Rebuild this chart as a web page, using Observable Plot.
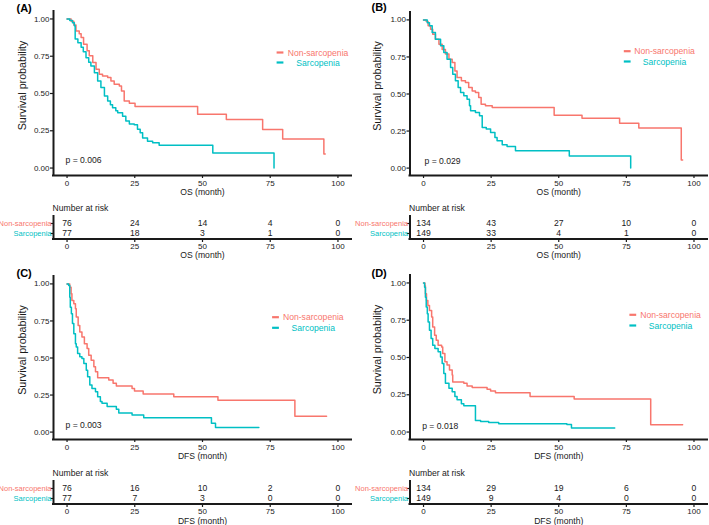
<!DOCTYPE html>
<html>
<head>
<meta charset="utf-8">
<script src="https://cdn.jsdelivr.net/npm/d3@7"></script>
<script src="https://cdn.jsdelivr.net/npm/@observablehq/plot@0.6"></script>
<style>
  html, body { margin: 0; padding: 0; background: #ffffff; }
  #root { position: relative; width: 709px; height: 525px; overflow: hidden; background: #ffffff; }
  #root svg { position: absolute; overflow: visible; }
</style>
</head>
<body>
<div id="root"></div>
<script>
// ---------- labels ----------
const groups = ["Non-sarcopenia", "Sarcopenia"];
const groupColors = ["#F8766D", "#00BFC4"];
const xTicks = [0, 25, 50, 75, 100];
const yTicks = [0, 0.25, 0.5, 0.75, 1];
const riskTimes = [0, 25, 50, 75, 100];
const panelTags = ["(A)", "(B)", "(C)", "(D)"];
const xLabels = ["OS (month)", "OS (month)", "DFS (month)", "DFS (month)"];
const yLabel = "Survival probability";
const riskTitle = "Number at risk";
const pValues = ["p = 0.006", "p = 0.029", "p = 0.003", "p = 0.018"];

// ---------- Panel A (OS) ----------
const aNonT = [0,1.5,2.5,3.3,4.5,5.2,6.1,7.4,8.2,9.5,10.7,11.9,13.1,15,16.2,17.4,19.3,20.1,21.1,23,25.1,48.2,58.8,72.2,79.6,94.8,95.3];
const aNonS = [1,0.985,0.96,0.92,0.90,0.876,0.83,0.787,0.753,0.708,0.663,0.629,0.618,0.607,0.584,0.562,0.55,0.517,0.45,0.434,0.413,0.36,0.326,0.258,0.195,0.094,0.094];
const aSarT = [0,1,2,2.7,3,4,5.2,6,7,8,8.8,10.1,11.3,12.5,13.8,15,16,16.8,18,18.7,20.5,21.7,23,24.8,26,27,27.9,29.7,31.6,34,53.8,76.4];
const aSarS = [1,0.99,0.975,0.955,0.865,0.84,0.81,0.78,0.74,0.71,0.685,0.64,0.584,0.54,0.483,0.45,0.425,0.404,0.385,0.371,0.348,0.315,0.295,0.29,0.26,0.236,0.202,0.18,0.169,0.153,0.101,0];

// ---------- Panel B (OS) ----------
const bNonT = [0,1,1.7,2.6,3.4,4.4,5.7,6.9,8.1,9.4,10.6,11.6,12.4,14,15.5,16.7,18,19.2,20.4,21.3,22.9,25.4,48.3,58.6,72.5,79.6,95.3,95.8];
const bNonS = [1,0.99,0.96,0.937,0.903,0.87,0.836,0.80,0.77,0.735,0.712,0.656,0.611,0.589,0.578,0.544,0.52,0.51,0.476,0.431,0.42,0.409,0.357,0.337,0.303,0.27,0.054,0.054];
const bSarT = [0,1.4,2.2,3.2,4.4,6.3,7.5,8.7,10,10.8,11.8,12.8,13.7,14.9,16.1,17,17.4,19.2,20.7,21.7,23.2,24.8,26.4,27.2,29.1,30.9,34,53.9,76.6];
const bSarS = [1,0.98,0.96,0.915,0.87,0.825,0.78,0.735,0.679,0.634,0.589,0.544,0.51,0.488,0.465,0.42,0.387,0.375,0.353,0.274,0.263,0.24,0.207,0.184,0.157,0.146,0.117,0.081,0];

// ---------- Panel C (DFS) ----------
const cNonT = [0,1,1.5,1.8,2.5,3.1,3.4,4.1,4.7,5.5,6.4,7.4,8,8.9,9.9,10.5,11.3,15.4,17,18.2,24,24.9,28.1,39.4,55.7,84.1,95.8];
const cNonS = [1,0.978,0.933,0.888,0.866,0.832,0.776,0.72,0.676,0.642,0.597,0.564,0.519,0.485,0.441,0.407,0.367,0.351,0.329,0.311,0.295,0.277,0.257,0.239,0.215,0.107,0.107];
const cSarT = [0,0.6,1,1.2,1.6,2,2.5,3.1,3.4,3.9,4.7,5.5,6.2,7.1,7.6,8.4,9.2,10.5,11.3,12.3,12.9,14.8,18.2,19.1,24,28.3,53.3,54.8,70.8];
const cSarS = [1,0.989,0.91,0.843,0.799,0.732,0.664,0.597,0.575,0.53,0.508,0.497,0.463,0.418,0.374,0.318,0.295,0.273,0.239,0.206,0.195,0.172,0.154,0.128,0.116,0.096,0.06,0.031,0.031];

// ---------- Panel D (DFS) ----------
const dNonT = [0,0.5,0.7,1.1,1.6,2.2,3,3.4,4.1,4.7,5.4,6.7,7.1,7.9,8.7,9.6,10.6,10.8,14.9,16.1,18,23.5,24.8,26.6,39.4,55.7,84,95.8];
const dNonS = [1,0.982,0.927,0.882,0.849,0.816,0.771,0.704,0.649,0.616,0.582,0.571,0.527,0.471,0.449,0.416,0.382,0.336,0.327,0.309,0.298,0.287,0.276,0.264,0.238,0.222,0.049,0.049];
const dSarT = [0,0.4,0.7,1,1.4,1.7,2.2,2.8,3.4,4.2,5.4,6.3,6.9,7.5,8.1,9.4,10.6,11.6,12.4,14,14.9,19.2,21.1,24.1,27.8,53,54.7,70.7];
const dSarS = [1,0.971,0.904,0.838,0.793,0.738,0.682,0.627,0.582,0.56,0.538,0.504,0.46,0.393,0.327,0.293,0.271,0.238,0.216,0.189,0.176,0.078,0.071,0.064,0.056,0.05,0.027,0.027];

// ---------- Numbers at risk ----------
const riskANon = [76, 24, 14, 4, 0];
const riskASar = [77, 18, 3, 1, 0];
const riskBNon = [134, 43, 27, 10, 0];
const riskBSar = [149, 33, 4, 1, 0];
const riskCNon = [76, 16, 10, 2, 0];
const riskCSar = [77, 7, 3, 0, 0];
const riskDNon = [134, 29, 19, 6, 0];
const riskDSar = [149, 9, 4, 0, 0];

// ---------- drawing ----------
const FONT_N = "'Liberation Sans Narrow','Arial Narrow','Liberation Sans',Arial,sans-serif";
const FONT_R = "'Liberation Sans',Arial,sans-serif";
const INK = "#1a1a1a";
const root = document.getElementById("root");

function place(svg, left, top) {
  svg.style.left = left + "px";
  svg.style.top = top + "px";
  root.appendChild(svg);
}

const lineSymbol = {
  draw(ctx, size) {
    const r = Math.sqrt(size / Math.PI);
    ctx.moveTo(-r, 0);
    ctx.lineTo(r, 0);
  }
};

function kmPanel(c) {
  const rows = [
    ...c.nonT.map((t, i) => ({g: groups[0], t, s: c.nonS[i]})),
    ...c.sarT.map((t, i) => ({g: groups[1], t, s: c.sarS[i]}))
  ];
  const legend = groups.flatMap((g, i) => [
    Plot.dot([g], {frameAnchor: "top-right", dx: c.legSw, dy: c.legDy[i], symbol: lineSymbol, r: 3.4,
      stroke: groupColors[i], strokeWidth: 2.2, fill: "none"}),
    Plot.text([g], {frameAnchor: "top-right", dx: c.legTx, dy: c.legDy[i] + 0.4, text: d => d,
      textAnchor: "middle", lineAnchor: "middle", fill: groupColors[i], fontSize: 8.6, fontFamily: FONT_N})
  ]);
  const svg = Plot.plot({
    width: c.w, height: c.h,
    marginLeft: c.ml, marginRight: c.mr, marginTop: c.mt, marginBottom: c.mb,
    style: {fontFamily: FONT_N, fontSize: "8px", color: INK, background: "transparent", overflow: "visible"},
    x: {domain: [-5, 105]},
    y: {domain: [-0.05, 1.05]},
    color: {domain: groups, range: groupColors},
    marks: [
      Plot.axisY(yTicks, {tickFormat: d3.format(".2f"), tickSize: 3, tickPadding: 1, label: null, strokeWidth: 1.2}),
      Plot.axisX(xTicks, {tickSize: 3, tickPadding: 2, label: null, strokeWidth: 1.2}),
      Plot.line(rows, {x: "t", y: "s", z: "g", stroke: "g", curve: "step-after", strokeWidth: 1.5}),
      Plot.ruleX([-5], {stroke: INK, strokeWidth: 2, strokeLinecap: "square"}),
      Plot.ruleY([-0.05], {stroke: INK, strokeWidth: 2, strokeLinecap: "square"}),
      Plot.text([yLabel], {frameAnchor: "left", rotate: -90, dx: c.ylDx, dy: c.ylDy, text: d => d,
        textAnchor: "middle", lineAnchor: "middle", fontFamily: FONT_R, fontSize: 10.7, fill: INK}),
      Plot.text([c.xlabel], {frameAnchor: "bottom", dy: c.xlDy, text: d => d, lineAnchor: "middle",
        fontSize: 8.6, fill: INK}),
      Plot.text([c.p], {frameAnchor: "bottom-left", dx: c.pDx, dy: c.pDy, text: d => d,
        textAnchor: "start", lineAnchor: "middle", fontSize: 8.6, fill: INK}),
      Plot.text([c.tag], {frameAnchor: "top-left", dx: c.tagDx, dy: c.tagDy, text: d => d,
        textAnchor: "start", lineAnchor: "middle", fontFamily: FONT_R, fontWeight: "bold", fontSize: 11, fill: "#000"}),
      ...legend
    ]
  });
  place(svg, c.left, c.top);
}

function riskPanel(c) {
  const rows = riskTimes.flatMap((t, i) => [
    {g: groups[0], t, n: c.non[i]},
    {g: groups[1], t, n: c.sar[i]}
  ]);
  const bottomLine = (index, scales, values, dims) => {
    const l = document.createElementNS("http://www.w3.org/2000/svg", "line");
    const y = dims.height - dims.marginBottom;
    l.setAttribute("x1", dims.marginLeft);
    l.setAttribute("x2", dims.width - dims.marginRight);
    l.setAttribute("y1", y);
    l.setAttribute("y2", y);
    l.setAttribute("stroke", INK);
    l.setAttribute("stroke-width", 2);
    l.setAttribute("stroke-linecap", "square");
    return l;
  };
  const svg = Plot.plot({
    width: c.w, height: c.h,
    marginLeft: c.ml, marginRight: c.mr, marginTop: c.mt, marginBottom: c.mb,
    style: {fontFamily: FONT_N, fontSize: "8px", color: INK, background: "transparent", overflow: "visible"},
    x: {domain: [-5, 105]},
    y: {type: "point", domain: groups, padding: 0.6},
    color: {domain: groups, range: groupColors},
    marks: [
      Plot.axisX(riskTimes, {tickSize: 3, tickPadding: 0.5, label: null, strokeWidth: 1.2}),
      Plot.axisY({tickSize: 2.5, tickFormat: () => "", label: null, strokeWidth: 1.2}),
      Plot.ruleX([-5], {stroke: INK, strokeWidth: 2, strokeLinecap: "square"}),
      bottomLine,
      Plot.text(groups, {y: d => d, frameAnchor: "left", dx: -2, textAnchor: "end", lineAnchor: "middle",
        text: d => d, fill: d => d, fontSize: 7.5}),
      Plot.text(rows, {x: "t", y: "g", text: "n", fontSize: 8.6, fill: INK}),
      Plot.text([riskTitle], {frameAnchor: "top-left", dx: -1, dy: c.titleDy, text: d => d,
        textAnchor: "start", lineAnchor: "middle", fontSize: 8.6, fill: INK}),
      Plot.text([c.xlabel], {frameAnchor: "bottom", dy: c.xlDy, text: d => d, lineAnchor: "middle",
        fontSize: 8.6, fill: INK})
    ]
  });
  place(svg, c.left, c.top);
}

// KM panels
kmPanel({left: 0, top: 0, w: 355, h: 200, ml: 53, mr: 4, mt: 11, mb: 25,
  nonT: aNonT, nonS: aNonS, sarT: aSarT, sarS: aSarS, xlabel: xLabels[0], p: pValues[0], tag: panelTags[0],
  tagDx: -37, tagDy: -3, pDx: 12, pDy: -15.7, legSw: -71.5, legTx: -33.5, legDy: [41, 51],
  xlDy: 16.7, ylDx: -31, ylDy: -8});
kmPanel({left: 355, top: 0, w: 354, h: 200, ml: 54.5, mr: 2, mt: 12, mb: 25,
  nonT: bNonT, nonS: bNonS, sarT: bSarT, sarS: bSarS, xlabel: xLabels[1], p: pValues[1], tag: panelTags[1],
  tagDx: -38.5, tagDy: -4.7, pDx: 14.5, pDy: -14.3, legSw: -80.3, legTx: -43, legDy: [38.7, 49],
  xlDy: 16.7, ylDx: -32, ylDy: -8});
kmPanel({left: 0, top: 260, w: 355, h: 200, ml: 53, mr: 4, mt: 16, mb: 21,
  nonT: cNonT, nonS: cNonS, sarT: cSarT, sarS: cSarS, xlabel: xLabels[2], p: pValues[2], tag: panelTags[2],
  tagDx: -37, tagDy: -2.7, pDx: 12, pDy: -14.7, legSw: -76, legTx: -38.2, legDy: [40.7, 51.3],
  xlDy: 16.7, ylDx: -31, ylDy: -8});
kmPanel({left: 355, top: 260, w: 354, h: 200, ml: 54.5, mr: 2, mt: 15, mb: 21,
  nonT: dNonT, nonS: dNonS, sarT: dSarT, sarS: dSarS, xlabel: xLabels[3], p: pValues[3], tag: panelTags[3],
  tagDx: -38.5, tagDy: -1.7, pDx: 12.2, pDy: -13.3, legSw: -74.7, legTx: -37, legDy: [39.3, 50],
  xlDy: 16.7, ylDx: -32, ylDy: -8});

// risk tables
riskPanel({left: 0, top: 200, w: 355, h: 60, ml: 53, mr: 4, mt: 16, mb: 21, non: riskANon, sar: riskASar,
  xlabel: xLabels[0], titleDy: -8.7, xlDy: 15.8});
riskPanel({left: 355, top: 200, w: 354, h: 60, ml: 54.5, mr: 2, mt: 16, mb: 21, non: riskBNon, sar: riskBSar,
  xlabel: xLabels[1], titleDy: -8.7, xlDy: 15.8});
riskPanel({left: 0, top: 460, w: 355, h: 65, ml: 53, mr: 4, mt: 21, mb: 21, non: riskCNon, sar: riskCSar,
  xlabel: xLabels[2], titleDy: -8.3, xlDy: 16.3});
riskPanel({left: 355, top: 460, w: 354, h: 65, ml: 54.5, mr: 2, mt: 21, mb: 21, non: riskDNon, sar: riskDSar,
  xlabel: xLabels[3], titleDy: -8.3, xlDy: 16.3});
</script>
</body>
</html>
